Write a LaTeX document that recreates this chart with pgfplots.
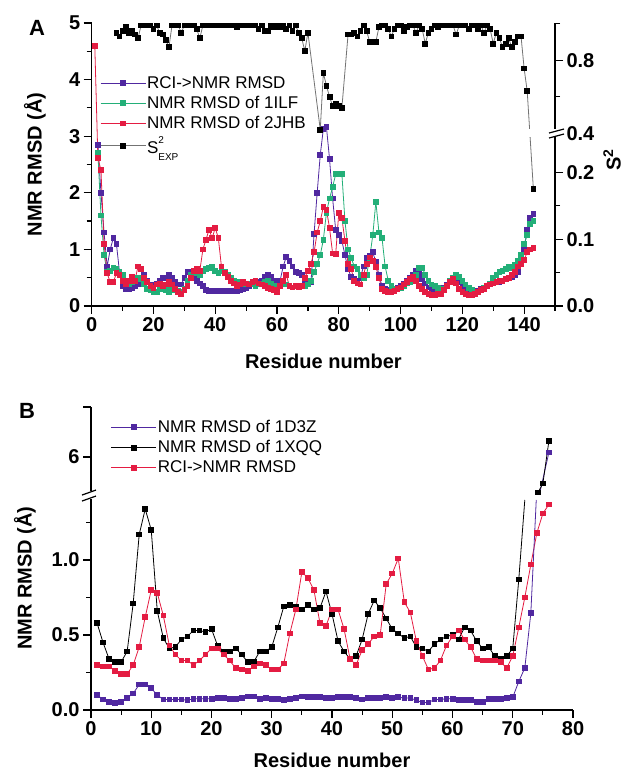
\documentclass[border=0pt]{standalone}
\usepackage{fontspec}
\setmainfont{Liberation Sans}
\usepackage{pgfplots}
\pgfplotsset{compat=1.18}
\usetikzlibrary{calc}
\definecolor{cInd}{RGB}{80,40,160}
\definecolor{cGrn}{RGB}{35,175,120}
\definecolor{cRed}{RGB}{228,28,66}
\definecolor{cGry}{RGB}{115,115,115}
\pgfplotsset{
  myax/.style={scale only axis, anchor=south west, tick align=outside,
    axis line style={line width=1.3pt,-},
    every outer x axis line/.append style={-},
    every outer y axis line/.append style={-},
    major tick length=8pt, minor tick length=5pt,
    every tick/.append style={black,line width=1.2pt},
    ticklabel style={font=\bfseries\fontsize{20pt}{24pt}\selectfont},
    label style={font=\bfseries\fontsize{20pt}{24pt}\selectfont},
    /pgf/number format/assume math mode=true,
    every axis plot/.append style={line width=0.8pt, mark size=2.4pt},
    legend cell align=left,
    legend style={draw=none, fill=none, anchor=north west, inner sep=0pt,
      font=\fontsize{17pt}{18pt}\selectfont, row sep=4.5pt,
      nodes={inner sep=1pt}},
    legend image code/.code={\draw[mark repeat=2,mark phase=2] plot coordinates {(0pt,0pt) (22.5pt,0pt) (45pt,0pt)};},
  },
}
\begin{document}
\begin{tikzpicture}
\useasboundingbox (0pt,0pt) rectangle (630pt,775pt);
% ================= Panel A =================
\begin{axis}[myax, at={(91.7pt,469pt)}, width=463.3pt, height=283pt,
  xmin=0, xmax=150, ymin=0, ymax=5,
  axis x line*=bottom, axis y line*=left,
  xtick={0,20,...,140}, minor xtick={10,30,...,150},
  ytick={0,1,...,5}, minor ytick={0.5,1.5,...,4.5},
  xlabel={Residue number}, ylabel={NMR RMSD (Å)},
  xlabel style={at={(axis description cs:0.5,-0.2226)}, anchor=base},
  ylabel style={at={(axis description cs:-0.1224,0.5)}, anchor=center},
  legend style={at={(axis description cs:0.018,0.816)}},
]
\addplot[cInd, mark=square*] coordinates {
(2,2.85)(3,2.0)(4,1.3)(5,0.7)(6,1.0)(7,1.2)(8,1.1)(9,0.6)(10,0.35)(11,0.3)(12,0.3)(13,0.32)(14,0.35)(15,0.38)(16,0.5)(17,0.55)(18,0.45)(19,0.38)(20,0.38)(21,0.4)(22,0.45)(23,0.5)(24,0.5)(25,0.55)(26,0.5)(27,0.42)(28,0.38)(29,0.38)(30,0.5)(31,0.6)(32,0.6)(33,0.55)(34,0.45)(35,0.4)(36,0.35)(37,0.28)(38,0.27)(39,0.27)(40,0.27)(41,0.27)(42,0.27)(43,0.27)(44,0.27)(45,0.27)(46,0.27)(47,0.27)(48,0.28)(49,0.3)(50,0.32)(51,0.35)(52,0.38)(53,0.4)(54,0.42)(55,0.45)(56,0.52)(57,0.55)(58,0.52)(59,0.45)(60,0.38)(61,0.45)(62,0.7)(63,0.87)(64,0.8)(65,0.7)(66,0.6)(67,0.58)(68,0.55)(69,0.45)(70,0.4)(71,0.42)(72,1.28)(73,2.0)(74,2.67)(75,3.13)(76,3.16)(77,2.6)(78,1.9)(79,1.34)(80,1.25)(81,1.15)(82,0.9)(83,0.65)(84,0.52)(85,0.48)(86,0.45)(87,0.5)(88,0.7)(89,0.85)(90,0.88)(91,0.95)(92,0.78)(93,0.55)(94,0.35)(95,0.3)(96,0.28)(97,0.28)(98,0.3)(99,0.33)(100,0.36)(101,0.4)(102,0.45)(103,0.5)(104,0.55)(105,0.62)(106,0.58)(107,0.48)(108,0.4)(109,0.33)(110,0.3)(111,0.3)(112,0.28)(113,0.3)(114,0.32)(115,0.38)(116,0.45)(117,0.5)(118,0.48)(119,0.42)(120,0.35)(121,0.3)(122,0.28)(123,0.27)(124,0.25)(125,0.27)(126,0.3)(127,0.33)(128,0.35)(129,0.38)(130,0.4)(131,0.42)(132,0.43)(133,0.45)(134,0.48)(135,0.5)(136,0.52)(137,0.55)(138,0.6)(139,0.75)(140,1.0)(141,1.35)(142,1.55)(143,1.62)
};
\addlegendentry{RCI->NMR RMSD}
\addplot[cGrn, mark=square*] coordinates {
(2,2.7)(3,1.6)(4,0.9)(5,0.6)(6,0.62)(7,0.68)(8,0.65)(9,0.6)(10,0.55)(11,0.45)(12,0.38)(13,0.42)(14,0.45)(15,0.5)(16,0.48)(17,0.38)(18,0.3)(19,0.28)(20,0.25)(21,0.25)(22,0.3)(23,0.32)(24,0.28)(25,0.25)(26,0.28)(27,0.3)(28,0.27)(29,0.25)(30,0.3)(31,0.45)(32,0.55)(33,0.6)(34,0.58)(35,0.55)(36,0.62)(37,0.65)(38,0.68)(39,0.7)(40,0.62)(41,0.58)(42,0.62)(43,0.6)(44,0.55)(45,0.5)(46,0.45)(47,0.42)(48,0.4)(49,0.38)(50,0.38)(51,0.4)(52,0.38)(53,0.35)(54,0.38)(55,0.4)(56,0.42)(57,0.45)(58,0.4)(59,0.35)(60,0.3)(61,0.35)(62,0.4)(63,0.38)(64,0.35)(65,0.33)(66,0.35)(67,0.35)(68,0.35)(69,0.35)(70,0.38)(71,0.45)(72,0.6)(73,0.75)(74,0.9)(75,1.17)(76,1.65)(77,1.9)(78,2.1)(79,2.33)(80,2.33)(81,2.33)(82,1.5)(83,1.0)(84,0.85)(85,0.7)(86,0.65)(87,0.55)(88,0.5)(89,0.55)(90,0.85)(91,1.25)(92,1.84)(93,1.3)(94,1.2)(95,0.7)(96,0.45)(97,0.35)(98,0.3)(99,0.3)(100,0.32)(101,0.35)(102,0.4)(103,0.42)(104,0.45)(105,0.55)(106,0.68)(107,0.68)(108,0.55)(109,0.45)(110,0.38)(111,0.35)(112,0.32)(113,0.3)(114,0.3)(115,0.35)(116,0.45)(117,0.5)(118,0.55)(119,0.52)(120,0.45)(121,0.38)(122,0.32)(123,0.28)(124,0.25)(125,0.25)(126,0.28)(127,0.32)(128,0.35)(129,0.4)(130,0.5)(131,0.55)(132,0.6)(133,0.62)(134,0.65)(135,0.7)(136,0.68)(137,0.72)(138,0.8)(139,0.9)(140,1.1)(141,1.25)(142,1.45)(143,1.5)
};
\addlegendentry{NMR RMSD of 1ILF}
\addplot[cRed, mark=square*] coordinates {
(1,4.6)(2,2.62)(3,2.4)(4,1.1)(5,0.58)(6,0.42)(7,0.42)(8,0.58)(9,0.55)(10,0.45)(11,0.38)(12,0.45)(13,0.52)(14,0.45)(15,0.7)(16,0.65)(17,0.5)(18,0.42)(19,0.35)(20,0.32)(21,0.38)(22,0.4)(23,0.35)(24,0.38)(25,0.42)(26,0.38)(27,0.3)(28,0.25)(29,0.22)(30,0.28)(31,0.35)(32,0.5)(33,0.62)(34,0.65)(35,0.62)(36,1.0)(37,1.17)(38,1.35)(39,1.2)(40,1.38)(41,1.2)(42,0.7)(43,0.58)(44,0.52)(45,0.45)(46,0.4)(47,0.35)(48,0.38)(49,0.42)(50,0.4)(51,0.38)(52,0.42)(53,0.45)(54,0.4)(55,0.38)(56,0.35)(57,0.32)(58,0.3)(59,0.28)(60,0.25)(61,0.35)(62,0.45)(63,0.55)(64,0.35)(65,0.33)(66,0.35)(67,0.33)(68,0.35)(69,0.5)(70,0.62)(71,0.75)(72,0.95)(73,1.3)(74,1.5)(75,1.75)(76,1.7)(77,1.38)(78,0.93)(79,0.92)(80,1.65)(81,1.55)(82,1.15)(83,0.75)(84,0.65)(85,0.45)(86,0.4)(87,0.38)(88,0.55)(89,0.75)(90,0.86)(91,0.8)(92,0.69)(93,0.5)(94,0.3)(95,0.27)(96,0.25)(97,0.25)(98,0.27)(99,0.3)(100,0.33)(101,0.38)(102,0.42)(103,0.48)(104,0.52)(105,0.45)(106,0.35)(107,0.3)(108,0.25)(109,0.22)(110,0.2)(111,0.2)(112,0.22)(113,0.22)(114,0.28)(115,0.35)(116,0.42)(117,0.48)(118,0.4)(119,0.3)(120,0.25)(121,0.22)(122,0.2)(123,0.2)(124,0.22)(125,0.25)(126,0.28)(127,0.3)(128,0.35)(129,0.38)(130,0.4)(131,0.42)(132,0.45)(133,0.45)(134,0.48)(135,0.5)(136,0.55)(137,0.6)(138,0.7)(139,0.75)(140,0.82)(141,0.95)(142,1.0)(143,1.02)
};
\addlegendentry{NMR RMSD of 2JHB}
\addplot[cGry, mark=square*, mark options={draw=black, fill=black},
  y filter/.expression={y<0.3 ? y*11.80 : 3.051+(y-0.4)*3.233}] coordinates {
(8,0.95)(9,0.93)(10,0.96)(11,0.98)(12,0.95)(13,0.96)(14,0.94)(15,0.92)(16,0.99)(17,0.99)(18,0.99)(19,0.99)(20,0.97)(21,0.99)(22,0.95)(23,0.94)(24,0.91)(25,0.87)(26,0.99)(27,0.99)(28,0.99)(29,0.95)(30,0.99)(31,0.99)(32,0.99)(33,0.99)(34,0.97)(35,0.92)(36,0.99)(37,0.99)(38,0.99)(39,0.99)(40,0.99)(41,0.99)(42,0.99)(43,0.99)(44,0.99)(45,0.99)(46,0.99)(47,0.98)(48,0.99)(49,0.99)(50,0.99)(51,0.99)(52,0.99)(53,0.99)(54,0.97)(55,0.99)(56,0.96)(57,0.96)(58,0.99)(59,0.98)(60,0.99)(61,0.98)(62,0.99)(63,0.97)(64,0.99)(65,0.96)(66,0.99)(67,0.95)(68,0.92)(69,0.85)(70,0.95)(74,0.42)(75,0.73)(76,0.66)(77,0.6)(78,0.55)(79,0.56)(80,0.55)(81,0.54)(83,0.94)(84,0.94)(85,0.95)(86,0.93)(87,0.96)(88,0.99)(89,0.96)(90,0.9)(91,0.9)(92,0.9)(93,0.98)(94,0.99)(95,0.99)(96,0.97)(97,0.93)(98,0.97)(99,0.99)(100,0.99)(101,0.96)(102,0.98)(103,0.99)(104,0.99)(105,0.95)(106,0.99)(107,0.97)(108,0.89)(109,0.95)(110,0.97)(111,0.99)(112,0.98)(113,0.99)(114,0.99)(115,0.99)(116,0.99)(117,0.99)(118,0.94)(119,0.99)(120,0.99)(121,0.99)(122,0.97)(123,0.99)(124,0.99)(125,0.97)(126,0.99)(127,0.95)(128,0.99)(129,0.97)(130,0.89)(131,0.95)(132,0.92)(133,0.87)(134,0.89)(135,0.92)(136,0.87)(137,0.9)(138,0.93)(139,0.93)(140,0.755)(141,0.63)(143,0.175)
};
\addlegendentry{S\rlap{\raisebox{0.55em}{\fontsize{10pt}{10pt}\selectfont 2}}\raisebox{-0.45em}{\fontsize{10pt}{10pt}\selectfont EXP}}
\coordinate (brkA) at (axis cs:150,3.056);
\end{axis}
\begin{axis}[myax, at={(91.7pt,469pt)}, width=463.3pt, height=283pt,
  xmin=0, xmax=150, ymin=0, ymax=5,
  axis x line=none, axis y line*=right,
  ytick={0,1.18,2.36,3.051,4.344}, yticklabels={0.0,0.1,0.2,0.4,0.8},
  minor ytick={0.59,1.77,3.698,4.991},
  ylabel={S\textsuperscript{2}},
  ylabel style={at={(axis description cs:1.123,0.516)}, anchor=center},
]
\addplot[draw=none] coordinates {(0,0)};
\end{axis}
\fill[white] ($(brkA)+(-32pt,-4pt)$) rectangle ($(brkA)+(9pt,4pt)$);
\draw[line width=1.2pt] ($(brkA)+(-6pt,-5pt)$) -- ($(brkA)+(9pt,-1pt)$);
\draw[line width=1.2pt] ($(brkA)+(-6pt,0pt)$) -- ($(brkA)+(9pt,4pt)$);
\node[font=\bfseries\fontsize{22pt}{24pt}\selectfont] at (37pt,747pt) {A};
% ================= Panel B =================
\begin{axis}[myax, at={(91pt,65pt)}, width=482pt, height=303pt,
  xmin=0, xmax=80, ymin=0, ymax=2.02,
  axis x line*=bottom, axis y line*=left,
  xtick={0,10,...,80}, minor xtick={5,15,...,75},
  ytick={0,0.5,1,1.6867,2.02}, yticklabels={0.0,0.5,1.0,6,{}},
  minor ytick={0.25,0.75,1.25},
  y filter/.expression={y<3 ? y : (253+(y-6)*50)/150},
  xlabel={Residue number}, ylabel={NMR RMSD (Å)},
  xlabel style={at={(axis description cs:0.5,-0.1914)}, anchor=base},
  ylabel style={at={(axis description cs:-0.137,0.4356)}, anchor=center},
  legend style={at={(axis description cs:0.041,0.960)}},
]
\addplot[cInd, mark=square*] coordinates {
(1,0.10)(2,0.07)(3,0.055)(4,0.045)(5,0.055)(6,0.08)(7,0.11)(8,0.17)(9,0.17)(10,0.145)(11,0.10)(12,0.07)(13,0.07)(14,0.07)(15,0.07)(16,0.065)(17,0.075)(18,0.075)(19,0.075)(20,0.075)(21,0.08)(22,0.08)(23,0.075)(24,0.075)(25,0.08)(26,0.09)(27,0.09)(28,0.075)(29,0.08)(30,0.075)(31,0.075)(32,0.065)(33,0.075)(34,0.08)(35,0.09)(36,0.085)(37,0.085)(38,0.085)(39,0.08)(40,0.08)(41,0.085)(42,0.085)(43,0.085)(44,0.08)(45,0.07)(46,0.08)(47,0.08)(48,0.08)(49,0.085)(50,0.08)(51,0.085)(52,0.08)(53,0.08)(54,0.065)(55,0.05)(56,0.05)(57,0.07)(58,0.07)(59,0.075)(60,0.075)(61,0.065)(62,0.065)(63,0.065)(64,0.055)(65,0.055)(66,0.075)(67,0.075)(68,0.075)(69,0.08)(70,0.085)(71,0.19)(72,0.28)(73,0.645)
};
\addlegendentry{NMR RMSD of 1D3Z}
\addplot[black, mark=square*] coordinates {
(1,0.58)(2,0.45)(3,0.34)(4,0.32)(5,0.32)(6,0.39)(7,0.71)(8,1.17)(9,1.34)(10,1.2)(11,0.66)(12,0.48)(13,0.41)(14,0.42)(15,0.47)(16,0.49)(17,0.53)(18,0.53)(19,0.52)(20,0.54)(21,0.43)(22,0.39)(23,0.39)(24,0.41)(25,0.37)(26,0.32)(27,0.32)(28,0.39)(29,0.39)(30,0.42)(31,0.55)(32,0.69)(33,0.7)(34,0.69)(35,0.67)(36,0.7)(37,0.67)(38,0.68)(39,0.79)(40,0.64)(41,0.46)(42,0.39)(43,0.34)(44,0.36)(45,0.47)(46,0.64)(47,0.73)(48,0.68)(49,0.61)(50,0.54)(51,0.51)(52,0.48)(53,0.49)(54,0.42)(55,0.41)(56,0.39)(57,0.44)(58,0.47)(59,0.49)(60,0.5)(61,0.47)(62,0.55)(63,0.53)(64,0.46)(65,0.41)(66,0.42)(67,0.36)(68,0.34)(69,0.36)(70,0.41)(71,0.87)
};
\addlegendentry{NMR RMSD of 1XQQ}
\addplot[cRed, mark=square*] coordinates {
(1,0.30)(2,0.29)(3,0.29)(4,0.26)(5,0.24)(6,0.24)(7,0.30)(8,0.42)(9,0.62)(10,0.80)(11,0.78)(12,0.63)(13,0.43)(14,0.37)(15,0.33)(16,0.33)(17,0.30)(18,0.33)(19,0.37)(20,0.41)(21,0.41)(22,0.37)(23,0.33)(24,0.28)(25,0.27)(26,0.26)(27,0.29)(28,0.31)(29,0.30)(30,0.27)(31,0.27)(32,0.31)(33,0.51)(34,0.67)(35,0.92)(36,0.88)(37,0.80)(38,0.58)(39,0.56)(40,0.67)(41,0.67)(42,0.54)(43,0.34)(44,0.30)(45,0.40)(46,0.44)(47,0.49)(48,0.50)(49,0.84)(50,0.91)(51,1.01)(52,0.72)(53,0.65)(54,0.46)(55,0.36)(56,0.27)(57,0.28)(58,0.33)(59,0.43)(60,0.49)(61,0.53)(62,0.47)(63,0.42)(64,0.34)(65,0.33)(66,0.33)(67,0.33)(68,0.32)(69,0.28)(70,0.36)(71,0.55)(72,0.75)(73,0.97)(74,1.18)(75,1.31)(76,1.37)
};
\addlegendentry{RCI->NMR RMSD}
\addplot[cInd, forget plot] coordinates {(73,0.645) (73.9,1.40)};
\addplot[cInd, forget plot] coordinates {(74.5,5.29) (76,6.09)};
\addplot[cInd, only marks, mark=square*, forget plot] coordinates {(76,6.09)};
\addplot[black, forget plot] coordinates {(71,0.87) (72,1.40)};
\addplot[black, mark=square*, forget plot] coordinates {(74.2,5.29) (75,5.47) (76,6.32)};
\coordinate (brkB) at (axis cs:0,1.433);
\end{axis}
\fill[white] ($(brkB)+(-10pt,-4pt)$) rectangle ($(brkB)+(2pt,4pt)$);
\draw[line width=1.2pt] ($(brkB)+(-9pt,-6pt)$) -- ($(brkB)+(5pt,-1pt)$);
\draw[line width=1.2pt] ($(brkB)+(-9pt,0pt)$) -- ($(brkB)+(5pt,5pt)$);
\node[font=\bfseries\fontsize{22pt}{24pt}\selectfont] at (27pt,364pt) {B};
\end{tikzpicture}
\end{document}
